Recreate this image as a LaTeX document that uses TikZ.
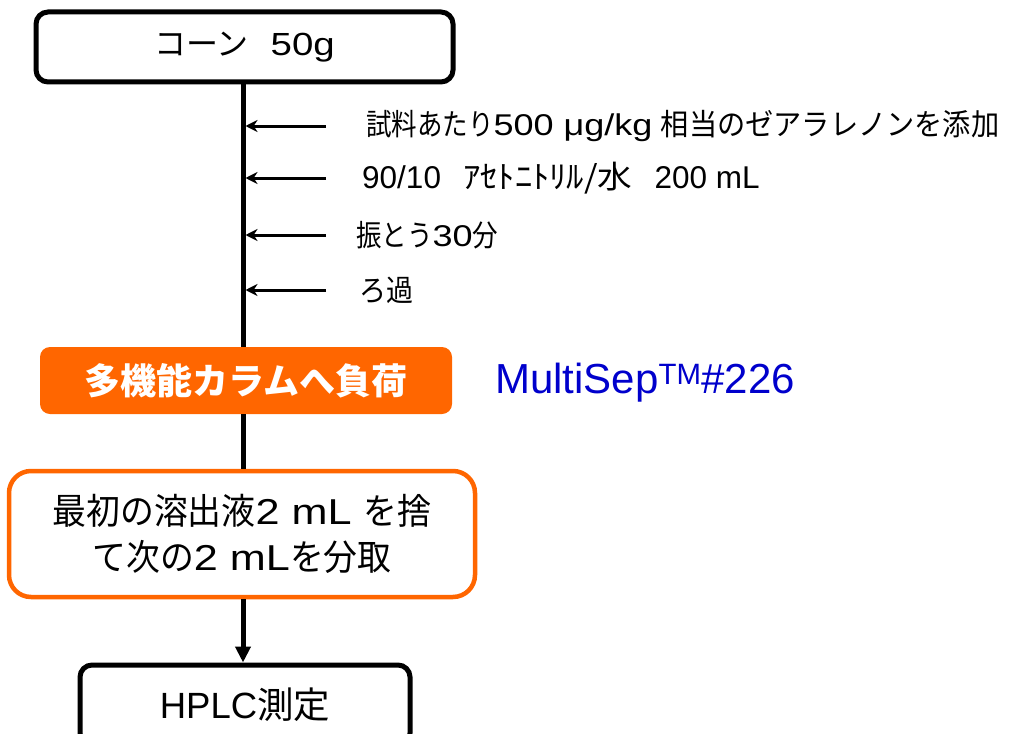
\documentclass[tikz,border=0pt]{standalone}
\usepackage{fontspec}
\setmainfont{Liberation Sans}
\newfontfamily\jp{Noto Sans CJK JP}
\newfontfamily\jpn[FakeStretch=0.85]{Noto Sans CJK JP}
\newfontfamily\jpm[FakeStretch=0.94]{Noto Sans CJK JP}
\newfontfamily\jpb[FakeStretch=0.9]{Noto Sans CJK JP}
\newfontfamily\jpw[FakeStretch=1.1]{Noto Sans CJK JP}
\newfontfamily\lw[FakeStretch=1.2]{Liberation Sans}
\newfontfamily\lx[FakeStretch=1.3]{Liberation Sans}
\usetikzlibrary{arrows.meta}
\definecolor{orng}{HTML}{FF6600}
\definecolor{msblue}{HTML}{0000CC}
\tikzset{
  blackbox/.style={draw=black, line width=5pt, rounded corners=12pt, fill=white, inner sep=0pt},
  orangefill/.style={fill=orng, draw=none, rounded corners=10pt, inner sep=0pt, text=white},
  orangebox/.style={draw=orng, line width=4.5pt, fill=white, rounded corners=22pt, inner sep=0pt, align=center},
  flow/.style={line width=5pt},
  sidearrow/.style={line width=3pt, -{Stealth[length=12pt,width=12pt]}},
  steplabel/.style={anchor=west, inner sep=0pt, font=\fontsize{30}{34}\selectfont},
}
\begin{document}
\begin{tikzpicture}[x=1pt,y=-1pt]
\clip (0,0) rectangle (1016,733);
\useasboundingbox (0,0) rectangle (1016,733);
\node[blackbox, minimum width=417pt, minimum height=70pt, font=\fontsize{32}{36}\selectfont] (top) at (244.5,47) {{\jp コーン}\hspace{22pt}{\lw 50g}};
\node[orangefill, minimum width=412pt, minimum height=67pt, font=\fontsize{36}{40}\selectfont\jp\bfseries] (col) at (246,380.5) {多機能カラムへ負荷};
\node[anchor=west, inner sep=0pt, text=msblue, font=\fontsize{42}{46}\selectfont] (ms) at (495,383) {MultiSep\textsuperscript{TM}\#226};
\node[orangebox, minimum width=466pt, minimum height=126pt, font=\fontsize{36}{46}\selectfont] (sep) at (242,534) {{\jpm 最初の溶出液}{\lw 2 mL }{\jpm を捨}\\{\jpm て次の}{\lw 2 mL}{\jpm を分取}};
\node[blackbox, minimum width=330pt, minimum height=80pt, font=\fontsize{36.5}{40}\selectfont] (hplc) at (245,705) {HPLC{\jp 測定}};
\draw[flow] (top.south -| 243,0) -- (col.north -| 243,0);
\draw[flow] (col.south -| 243,0) -- (sep.north -| 243,0);
\draw[flow, -{Triangle[length=16pt,width=15pt]}] (sep.south -| 243,0) -- (hplc.north -| 243,0);
\coordinate (a1) at (326,126);
\coordinate (a2) at (326,178);
\coordinate (a3) at (326,235);
\coordinate (a4) at (326,290);
\foreach \a in {a1,a2,a3,a4} \draw[sidearrow] (\a) -- (\a -| 245.5,0);
\node[steplabel] (l1) at (366,126) {{\jpn 試料あたり}{\lw 500 μg/kg} {\jpm 相当のゼアラレノンを添加}};
\node[steplabel, font=\fontsize{31.5}{34}\selectfont] (l2) at (362,178) {90/10\hspace{22pt}{\jpw ｱｾﾄﾆﾄﾘﾙ/水}\hspace{22pt}200 mL};
\node[steplabel] (l3) at (356,235) {{\jpn 振とう}{\lw 30}{\jpn 分}};
\node[steplabel] (l4) at (359,290) {\jpb ろ過};
\end{tikzpicture}
\end{document}
